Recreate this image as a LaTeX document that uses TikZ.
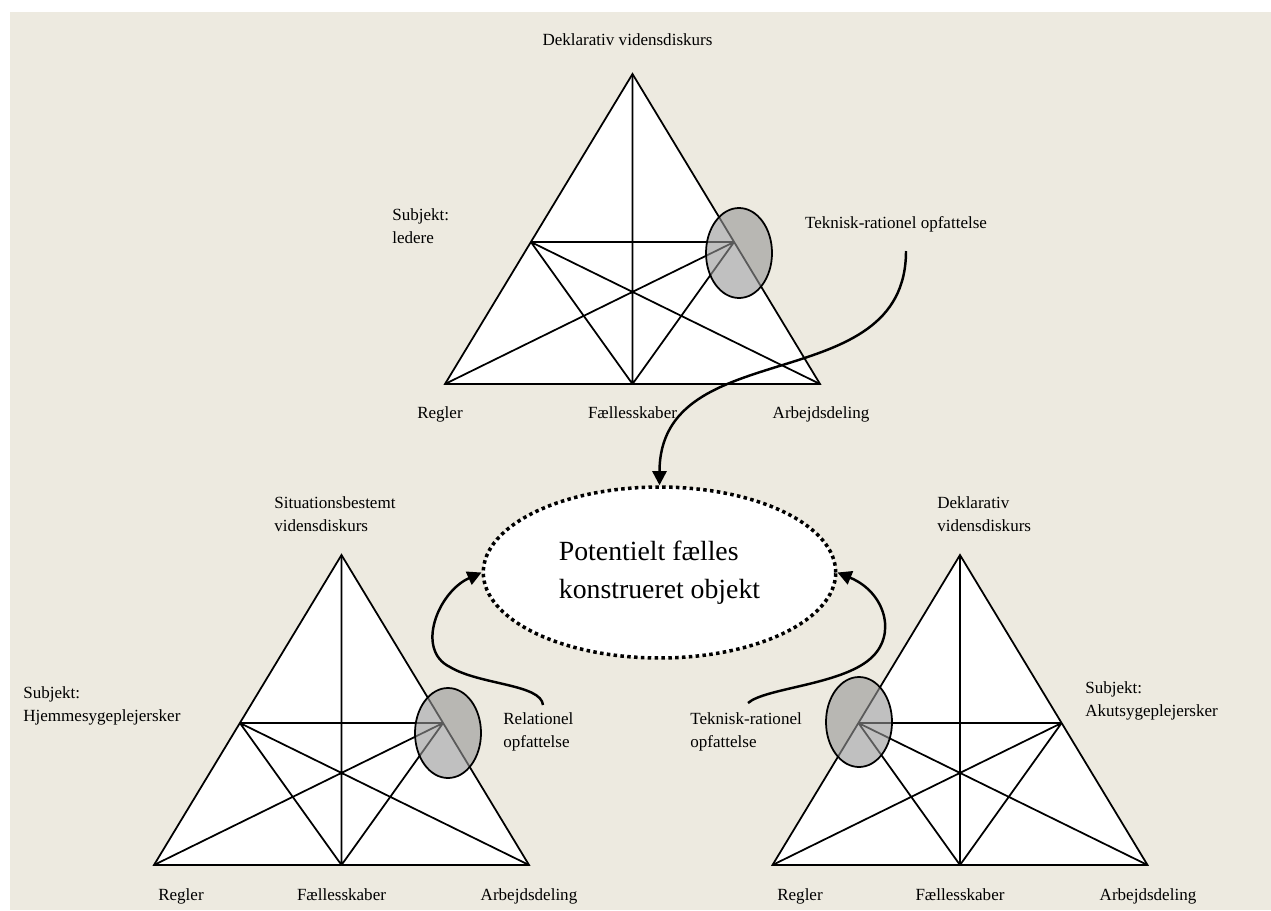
\documentclass[tikz,border=0pt]{standalone}
\usepackage{fontspec}
\setmainfont{Liberation Serif}
\usetikzlibrary{shapes.geometric, arrows.meta}

\definecolor{paper}{RGB}{237,234,224}
\definecolor{shade}{RGB}{150,150,150}

% one activity triangle, #1 = name, (#2,#3) = apex
\newcommand{\acttriangle}[3]{
	\coordinate (#1-a) at (#2,#3);
	\coordinate (#1-l) at (#2-187.5,#3+310);
	\coordinate (#1-r) at (#2+187.5,#3+310);
	\coordinate (#1-m) at (#2,#3+310);
	\coordinate (#1-p) at (#2-101.6,#3+168);
	\coordinate (#1-q) at (#2+101.6,#3+168);
	\filldraw[tri] (#1-a) -- (#1-r) -- (#1-l) -- cycle;
	\draw[tri] (#1-a) -- (#1-m) (#1-p) -- (#1-q)
		(#1-p) -- (#1-r) (#1-p) -- (#1-m)
		(#1-q) -- (#1-l) (#1-q) -- (#1-m);
}

\begin{document}
\begin{tikzpicture}[x=0.02cm, y=-0.02cm,
		tri/.style={draw=black, fill=white, line width=1pt, line join=miter},
		focus/.style={draw=black, line width=1pt, fill=shade, fill opacity=0.6},
		lbl/.style={font=\fontsize{9.7}{12.8}\selectfont, inner sep=0pt, align=left},
		corner/.style={lbl, anchor=base},
		curved/.style={line width=1.4pt, -{Triangle[length=8pt, width=8pt]}}]
	
	% ==========================================
	% PAGE & BACKGROUND
	% ==========================================
	\useasboundingbox (0,0) rectangle (1271,910);
	\fill[white] (0,0) rectangle (1271,910);
	\fill[paper] (10,12) rectangle (1271,910);
	
	% ==========================================
	% THE THREE TRIANGLES
	% ==========================================
	\acttriangle{top}{632.5}{74}
	\acttriangle{home}{341.5}{555}
	\acttriangle{acute}{960}{555}
	
	% shaded positions
	\draw[focus] (739,253) ellipse (33 and 45);
	\draw[focus] (448,733) ellipse (33 and 45);
	\draw[focus] (859,722) ellipse (33 and 45);
	
	% ==========================================
	% SHARED OBJECT
	% ==========================================
	\node[ellipse, draw=black, fill=white, line width=2pt, dash pattern=on 2pt off 1.9pt,
		minimum width=7.05cm, minimum height=3.42cm, inner sep=0pt, align=left,
		font=\fontsize{15.8}{21.5}\selectfont] (obj) at (659.5,572.5)
		{Potentielt fælles\\konstrueret objekt};
	
	% ==========================================
	% LABELS
	% ==========================================
	% top triangle
	\node[lbl] (topdecl) at (627.5,40) {Deklarativ vidensdiskurs};
	\node[lbl, anchor=west] (topsubj) at (392,226) {Subjekt:\\ledere};
	\node[lbl] (toptek) at (896,224) {Teknisk-rationel opfattelse};
	\node[corner] (topregl) at (440,418) {Regler};
	\node[corner] (topfael) at (632.5,418) {Fællesskaber};
	\node[corner] (toparb) at (821,418) {Arbejdsdeling};
	
	% bottom left triangle
	\node[lbl, anchor=west] (homesit) at (274,514) {Situationsbestemt\\vidensdiskurs};
	\node[lbl, anchor=west] (homesubj) at (23,706) {Subjekt:\\Hjemmesygeplejersker};
	\node[lbl, anchor=west] (homerel) at (503,732) {Relationel\\opfattelse};
	\node[corner] (homeregl) at (181,900) {Regler};
	\node[corner] (homefael) at (341.5,900) {Fællesskaber};
	\node[corner] (homearb) at (529,900) {Arbejdsdeling};
	
	% bottom right triangle
	\node[lbl, anchor=west] (acutedecl) at (937,514) {Deklarativ\\vidensdiskurs};
	\node[lbl, anchor=west] (acutesubj) at (1085,701) {Subjekt:\\Akutsygeplejersker};
	\node[lbl, anchor=west] (acutetek) at (690,732) {Teknisk-rationel\\opfattelse};
	\node[corner] (acuteregl) at (800,900) {Regler};
	\node[corner] (acutefael) at (960,900) {Fællesskaber};
	\node[corner] (acutearb) at (1148,900) {Arbejdsdeling};
	
	% ==========================================
	% ARROWS INTO THE SHARED OBJECT
	% ==========================================
	\coordinate (s1) at (906,251);
	\coordinate (s2) at (543,705);
	\coordinate (s3) at (748,703);
	\coordinate (k2) at (450,667);
	\coordinate (k3) at (870,659);
	
	\draw[curved] (s1) .. controls +(0,149) and +(0,-153) .. (obj.north);
	\draw[curved] (s2) .. controls (541,684) and (480,685) .. (k2)
		.. controls (415,650) and (438,592) .. (obj.west);
	\draw[curved] (s3) .. controls (765,688) and (840,685) .. (k3)
		.. controls (898,635) and (885,592) .. (obj.east);
	
\end{tikzpicture}
\end{document}
